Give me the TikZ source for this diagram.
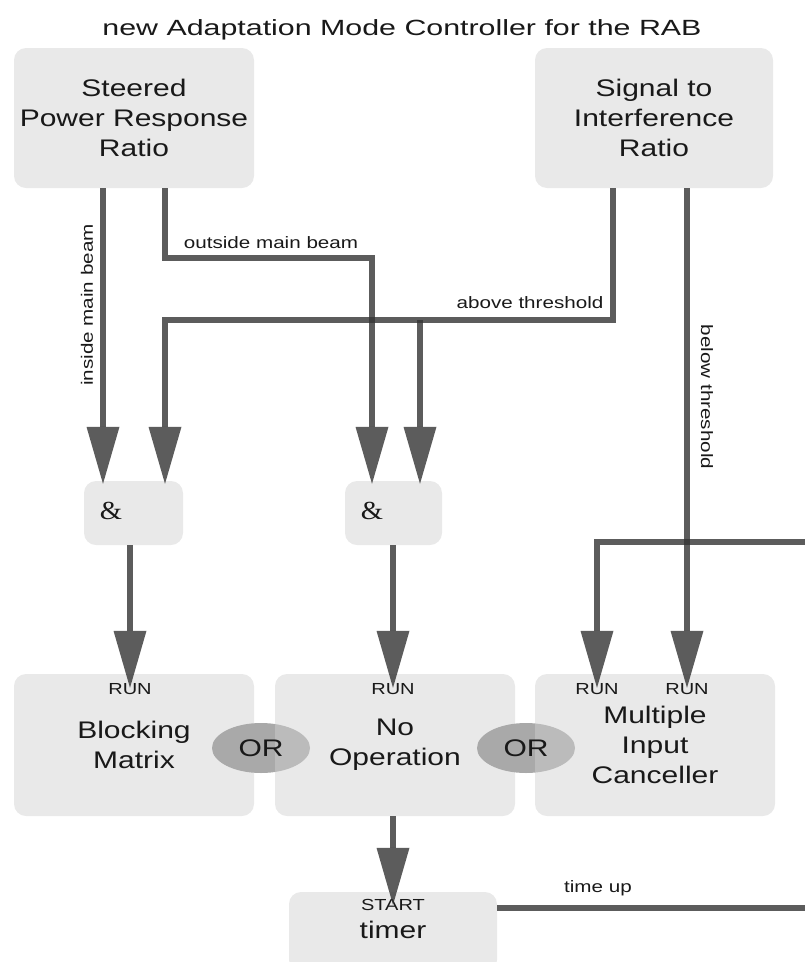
\documentclass[tikz,border=0pt]{standalone}
\usepackage{fontspec}
\setmainfont{Liberation Sans}[FakeStretch=1.25]
\newfontfamily\titlefont{Liberation Sans}[FakeStretch=1.38]
\newfontfamily\ampfont{Liberation Serif}[FakeStretch=1.1]
\usetikzlibrary{arrows.meta,shapes.geometric}

\definecolor{boxgray}{RGB}{208,208,208}
\definecolor{orgray}{RGB}{169,169,169}
\definecolor{wire}{RGB}{51,51,51}
\definecolor{ink}{RGB}{25,25,25}

\tikzset{
  blk/.style={rounded corners=12pt, fill=boxgray, fill opacity=0.465,
    text opacity=1, inner sep=0pt, align=center, text=ink,
    font=\fontsize{24}{30}\selectfont},
  orshape/.style={ellipse, fill=orgray, inner sep=0pt,
    minimum width=98pt, minimum height=50pt},
  ortext/.style={text=ink, font=\fontsize{24}{30}\selectfont},
  conn/.style={draw=wire, opacity=0.8, line width=6pt, line join=miter},
  arr/.style={-{Triangle[width=33pt,length=57pt,line width=0pt]}},
  lbl/.style={text=ink, inner sep=0pt, font=\fontsize{16.5}{20}\selectfont},
  tag/.style={text=ink, inner sep=0pt, font=\fontsize{16}{18}\selectfont},
  amp/.style={text=ink, inner sep=0pt, font=\ampfont\fontsize{26}{30}\selectfont},
}

\begin{document}
\begin{tikzpicture}[x=1pt,y=-1pt]
\useasboundingbox (0,0) rectangle (805,962);
\clip (0,0) rectangle (805,962);

% title
\node[text=ink, font=\titlefont\fontsize{22}{26}\selectfont] (title) at (402,30)
  {new Adaptation Mode Controller for the RAB};

% measurement blocks
\node[blk, minimum width=240pt, minimum height=140pt] (spr) at (134,118)
  {Steered\\Power Response\\Ratio};
\node[blk, minimum width=238pt, minimum height=140pt] (sir) at (654,118)
  {Signal to\\Interference\\Ratio};

% AND gates
\node[blk, minimum width=99pt, minimum height=64pt] (and1) at (133.5,513) {};
\node[blk, minimum width=97pt, minimum height=64pt] (and2) at (393.5,513) {};
\node[amp] (amp1) at (111,511) {\&};
\node[amp] (amp2) at (372,511) {\&};

% operating modes, joined by OR
\node[blk, minimum width=240pt, minimum height=142pt] (bm) at (134,745)
  {Blocking\\Matrix};
\node[orshape] (or1) at (261,748) {};
\node[blk, minimum width=240pt, minimum height=142pt] (noop) at (395,745)
  {No\\Operation};
\node[orshape] (or2) at (526,748) {};
\node[blk, minimum width=240pt, minimum height=142pt] (mic) at (655,745)
  {Multiple\\Input\\Canceller};
\node[ortext] at (or1) {OR};
\node[ortext] at (or2) {OR};

% timer
\node[blk, minimum width=208pt, minimum height=80pt] (timer) at (393,932) {};
\node[tag] (start) at (393,905) {START};
\node[text=ink, font=\fontsize{24}{30}\selectfont] (tmr) at (393,930) {timer};

% input tags
\node[tag] (run1) at (130,689) {RUN};
\node[tag] (run2) at (393,689) {RUN};
\node[tag] (run3) at (597,689) {RUN};
\node[tag] (run4) at (687,689) {RUN};

% routing points
\coordinate (cin) at (103,0);
\coordinate (j1) at (165,258);
\coordinate (j2) at (372,258);
\coordinate (j3) at (613,320);
\coordinate (j4) at (165,320);
\coordinate (j5) at (420,320);
\coordinate (cbt) at (687,0);
\coordinate (j6) at (805,542);
\coordinate (j7) at (597,542);
\coordinate (cg1) at (130,0);
\coordinate (cg2) at (393,0);
\coordinate (j8) at (805,908);

% connectors
\draw[conn, arr, shorten >=-3pt] (spr.south -| cin) -- (and1.north -| cin);
\draw[conn, arr, shorten >=-3pt] (spr.south -| j1) -- (j1) -- (j2) -- (and2.north -| j2);
\draw[conn, arr, shorten >=-3pt] (sir.south -| j3) -- (j3) -- (j4) -- (and1.north -| j4);
\draw[conn, arr, shorten >=-3pt] (j5) -- (and2.north -| j5);
\draw[conn, arr, shorten >=-14pt] (sir.south -| cbt) -- (mic.north -| cbt);
\draw[conn, arr, shorten >=-14pt] (j6) -- (j7) -- (mic.north -| j7);
\draw[conn, arr, shorten >=-14pt] (and1.south -| cg1) -- (bm.north -| cg1);
\draw[conn, arr, shorten >=-14pt] (and2.south -| cg2) -- (noop.north -| cg2);
\draw[conn, arr, shorten >=-13pt] (noop.south -| cg2) -- (timer.north -| cg2);
\draw[conn] (timer.east |- j8) -- (j8);

% connector labels
\node[lbl, rotate=90] at (87,305) {inside main beam};
\node[lbl] at (271,243) {outside main beam};
\node[lbl] at (530,303) {above threshold};
\node[lbl, rotate=-90] at (707,397) {below threshold};
\node[lbl] at (598,888) {time up};
\end{tikzpicture}
\end{document}
